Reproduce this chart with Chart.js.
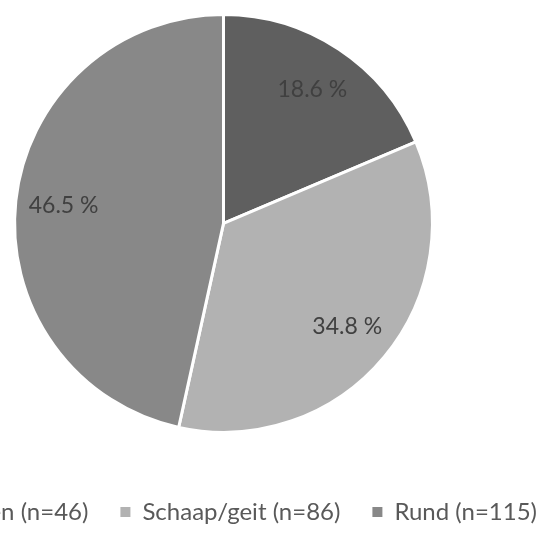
<!DOCTYPE html>
<html lang="nl">
<head>
<meta charset="utf-8">
<title>Verdeling per diersoort</title>
<script src="https://cdn.jsdelivr.net/npm/chart.js"></script>
<style>
  html, body {
    margin: 0;
    padding: 0;
    background: #ffffff;
    overflow: hidden;
    width: 541px;
    height: 537px;
  }
  /* o gráfico original está cortado à esquerda, por isso o canvas começa fora da janela */
  #wrap {
    position: absolute;
    left: -122px;
    top: 0;
    width: 691px;
    height: 537px;
  }
</style>
</head>
<body>
<div id="wrap"><canvas id="pieChart"></canvas></div>
<script>
// Dados do gráfico
const categorias = ['Varken', 'Schaap/geit', 'Rund'];
const aantallen = [46, 86, 115];
const percentages = [18.6, 34.8, 46.5]; // como aparecem no gráfico original
const cores = ['#5f5f5f', '#b2b2b2', '#888888'];

const legendaLabels = categorias.map((c, i) => `${c} (n=${aantallen[i]})`);

// Plugin simples para escrever as percentagens dentro das fatias
const percentagemPlugin = {
    id: 'percentagens',
    afterDatasetsDraw(chart) {
        const ctx = chart.ctx;
        const meta = chart.getDatasetMeta(0);
        ctx.save();
        ctx.font = '23px Lato, "Open Sans", sans-serif';
        ctx.fillStyle = '#404040';
        ctx.textAlign = 'center';
        ctx.textBaseline = 'middle';
        meta.data.forEach((arc, i) => {
            const p = arc.getProps(['x', 'y', 'startAngle', 'endAngle', 'outerRadius'], true);
            const hoek = (p.startAngle + p.endAngle) / 2;
            const r = p.outerRadius * 0.77;
            const tekst = percentages[i].toFixed(1) + ' %';
            ctx.fillText(tekst, p.x + Math.cos(hoek) * r, p.y + Math.sin(hoek) * r);
        });
        ctx.restore();
    }
};

const ctx = document.getElementById('pieChart').getContext('2d');
const pieChart = new Chart(ctx, {
    type: 'pie',
    data: {
        labels: legendaLabels,
        datasets: [{
            data: aantallen,
            backgroundColor: cores,
            borderColor: '#ffffff',
            borderWidth: 3
        }]
    },
    options: {
        responsive: true,
        maintainAspectRatio: false,
        animation: false,
        layout: {
            padding: { top: 13, bottom: 3, left: 0, right: 0 }
        },
        plugins: {
            tooltip: { enabled: false },
            legend: {
                display: true,
                position: 'bottom',
                align: 'end',
                title: {
                    display: true,
                    text: '',
                    font: { size: 1 },
                    padding: { top: 0, bottom: 33 }
                },
                labels: {
                    boxWidth: 10,
                    boxHeight: 10,
                    padding: 32,
                    color: '#595959',
                    font: { family: 'Lato, "Open Sans", sans-serif', size: 24 },
                    generateLabels(chart) {
                        const base = Chart.overrides.doughnut.plugins.legend.labels.generateLabels(chart);
                        return base.map(item => ({ ...item, lineWidth: 0 }));
                    }
                }
            }
        }
    },
    plugins: [percentagemPlugin]
});
</script>
</body>
</html>
